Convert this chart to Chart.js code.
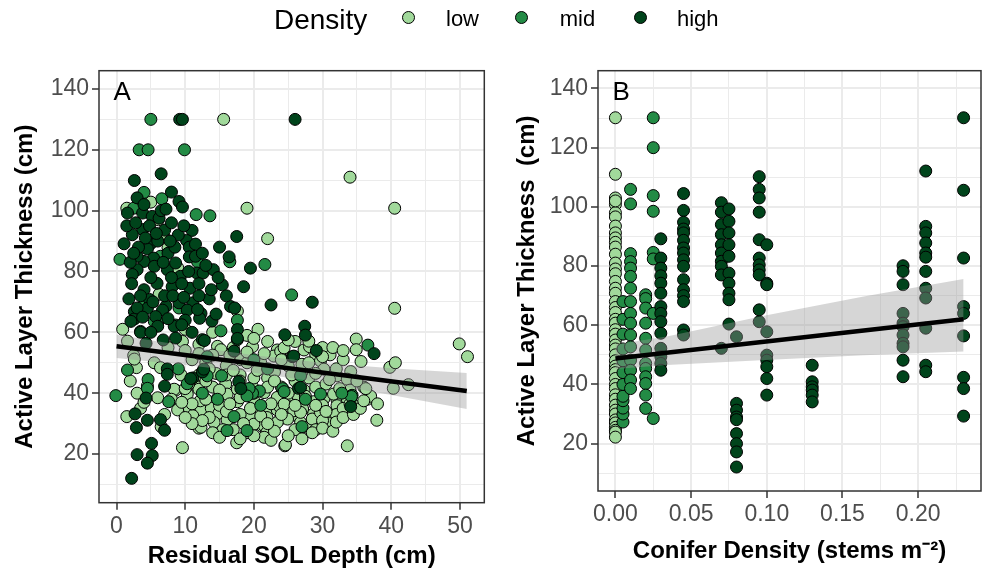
<!DOCTYPE html>
<html>
<head>
<meta charset="utf-8">
<script src="https://cdn.jsdelivr.net/npm/chart.js@4.4.1/dist/chart.umd.min.js"></script>
<style>
  body { margin: 0; background: #fff; font-family: "Liberation Sans", Arial, sans-serif; }
  #page { position: relative; width: 988px; height: 573px; overflow: hidden; }
  canvas { position: absolute; top: 0; }
  #chartA { left: 0; }
  #chartB { left: 494px; }
  .lg { position: absolute; line-height: 1; color: #000; white-space: nowrap; }
  .dot { position: absolute; top: 10.5px; width: 11px; height: 11px; border: 1px solid #000; border-radius: 50%; }
</style>
</head>
<body>
<div id="page">
  <canvas id="chartA" width="494" height="573"></canvas>
  <canvas id="chartB" width="494" height="573"></canvas>
  <div class="lg" style="left:274px;top:5.6px;font-size:28px">Density</div>
  <div class="dot" style="left:401.8px;background:#a1d99b"></div>
  <div class="lg" style="left:446px;top:7.9px;font-size:22px">low</div>
  <div class="dot" style="left:515.2px;background:#238b45"></div>
  <div class="lg" style="left:559.7px;top:7.9px;font-size:22px">mid</div>
  <div class="dot" style="left:634px;background:#00441b"></div>
  <div class="lg" style="left:677px;top:7.9px;font-size:22px">high</div>
</div>
<script>
const FONT = '"Liberation Sans", Arial, sans-serif';
const LOW = "#a1d99b", MID = "#238b45", HIGH = "#00441b";

// Panel A : residual SOL depth (cm) -> active layer thickness (cm)
const aLow = [
  [15.6,130],[34,111],[19,100.8],[40.5,100.8],[22,90.8],[5,102.8],[1.5,100.8],[6.1,97],[7,91],[7.5,87.8],
  [6.2,72.5],[8.9,81.3],[17.6,67],[40.5,67.9],[49.9,56.2],[51.1,52],[34.9,57.8],[34.9,54.3],[35.6,50.4],[39.8,48.5],
  [40.6,50],[40.3,41.6],[42.5,42.8],[37.9,31.1],[33.6,22.7],[24.5,22.7],[17.5,23.7],[9.6,22.1],[31.1,52.6],[20.6,61],
  [19.8,55.3],[36.5,38],[35,35.6],[31.1,32.8],[1.5,32.3],[0.9,61],[1.6,57.1],[2.5,52.4],[2.9,48.4],[9.4,46],
  [8.6,41],[11.8,42.1],[8.9,34.5],[10.6,35],[12.3,34.5],[13.8,35],[14.9,33.4],[12,28.5],[16.1,31.2],[17.6,37.2],
  [19.5,32.8],[20.1,35.5],[21.9,34.5],[21.9,32],[21.2,29.2],[23.4,34.5],[23.9,31.6],[24.6,23],[23.4,38.3],[19.8,42],
  [6,38.5],[6.5,29],[3.5,35],[2.6,51.2],[14.5,46.5],[15.9,43],[14.7,38.3],[34.1,47.1],[28.7,37.2],[27.3,41],
  [26.5,38.4],[24.8,37.8],[23.8,35.5],[25.3,35.5],[25.8,32.8],[27.1,34.8],[28.7,33.2],[28.7,31.4],[26.8,30.4],[27.8,28.8],
  [30.2,38.2],[32.1,37.8],[33.5,39],[29,52.6],[27.3,54.2],[28.1,55.3],[23.4,54.2],[9.6,57],[14.7,55.4],[15.2,54.3],
  [18.1,51],[19,50],[21,50],[22.9,52.2],[23.9,53.8],[24.4,54.9],[28,57.1],[29.7,50.6],[32.1,45.7],[33.6,44.6],
  [30.2,47.9],[5.5,50],[6.4,48.4],[4.5,42.4],[8.4,41.3],[12,41.3],[10.3,39.7],[12.2,37.5],[16.1,39.7],[17.6,41.3],
  [20,37.5],[21.5,40.2],[23.4,38.6],[24.4,36.4],[25.8,34.2],[24.9,31.5],[23.4,30.4],[21.5,29.3],[20,29.8],[21.9,27.1],
  [21.5,25.5],[14.2,30.4],[12.3,28.8],[11.1,32.6],[26.8,33.7],[28.5,31.5],[29.7,33.7],[31.1,33.1],[32.1,35.9],[33.6,38.1],
  [31.6,39.7],[13,38],[15,36],[16,34],[18,33],[18.5,30],[19,27],[17,28],[15.5,28],[13.5,32],
  [11,36.5],[22.5,36.5],[25,40],[26,44],[28,45],[29,42],[30,36],[31,30],[32,33],[33,35],
  [34,41],[30.5,43],[27,47],[25,49],[22,45],[20,45],[18,46],[16,49],[13,50],[11,51],
  [10,54],[12,56],[17,55],[23,47],[26,28],[29,28],[30,31],[20,40],[22,42],[24,42],
  [14,42],[12,46],[8,38],[7,33],[4,37],[3,40],[2,44],[10.5,43],[37,39],[38,36.5],
  [36,42],[35,44],[18,44],[7.5,55],[10,61],[14,60],[19,59],[26,57],[30,55],[32,48],
  [33,51],[36.3,41.5],[14,27],[15,25.5],[18,25],[20,26],[22.5,24.5],[23,27.5],[25,26],[27,25],
  [28.5,27],[30,28.5],[31.5,27.5],[32,30.5],[33,32],[34.5,33],[35.5,35],[36,37.5],[34,36.5],[12.5,31],
  [11,30],[10,32],[9.5,37],[10,41.5],[13,44],[15,41],[16.5,36.5],[18,38.5],[19.5,35],[21,32.5],
  [22,30],[24,33],[26,36],[27.5,39],[29,36],[30.5,34],[32.5,41.5],[31,44.5],[29,46.5],[27,49.5],
  [24,51],[21.5,53],[19,53.5],[16.5,52.5],[14,52.5],[12,53],[13.5,48],[16,46],[20.5,47.5],[23,44],
  [25.5,46],[28,50],[30,52],[31.5,55],[33,54],[25,57.5],[22,57],[20,58],[17,47.5]
];
const aMid = [
  [5,130],[3.3,120],[4.6,120],[9.9,120],[4,106],[6.6,103.9],[2.5,100.8],[11.6,98.7],[13.6,98.3],[0.5,84],
  [16.5,83.2],[21.6,82.3],[25.5,72.3],[11.8,83.2],[-0.1,39.2],[36.6,55.8],[1.6,47.6],[27,29],[4.6,44.5],[15.2,60.5],
  [17.6,64],[20.8,40.7],[34.3,39.3],[4.5,41.6],[7.6,37.2],[10.3,43.1],[19.8,40],[19.3,41.5],[17.1,32.3],[15.3,45.7],
  [13.2,52],[6,63.4],[8.6,62.4],[17.6,57.6],[24.2,41.5],[24.4,40.5],[34.2,38.9],[32.8,40],[3.5,60.3],[5.5,63.6],
  [20,51],[26.8,45.7],[13.2,45.7],[14.7,38],[19,39.1],[19,27.7],[16.1,27.7],[29.7,39.7],[9.1,68],[4,69],
  [6.4,85],[22,48],[12.5,40],[9,48],[27.5,38],[21,36]
];
const aHigh = [
  [9.2,130],[9.6,130],[26,130],[2.6,109.9],[6.5,112.1],[8,106.1],[3,104.2],[9.1,103],[9.6,101.2],[1.6,99.2],
  [3.8,99.2],[5.2,98.1],[6.2,97.5],[11,93.5],[7,93.6],[3.8,93.8],[2.3,92.1],[1.1,89.1],[5,89.2],[10.2,90.2],
  [10.6,88],[17.5,91.5],[4.5,87.4],[5.4,84.4],[10.6,84.8],[16.4,84.8],[19.5,81.1],[4,83.3],[3,80.6],[2.3,79],
  [5.5,81.7],[7.4,80.6],[8.6,82.8],[9.3,78.4],[11.7,79.5],[12.6,79.5],[14.1,80.6],[15.4,75.6],[4,74],[5.9,76.1],
  [8.1,75],[10.7,74.5],[4.8,70.8],[7.2,68.6],[9.1,69.7],[11.1,69.7],[2.6,66.8],[4.5,67.9],[6.7,67.3],[10.3,67.3],
  [12.3,66.2],[16.6,68.5],[22.5,69],[28.5,69.9],[37.5,53],[29.1,54],[24.5,59.2],[27.4,62],[27.5,59.1],[2.2,12],
  [3,19.8],[5.1,23.5],[5.2,19.5],[4.5,17],[2.7,33.2],[2.9,28.7],[4.5,31.1],[6.4,31.3],[7,27.8],[4.3,38.4],
  [7,42.3],[7.4,48],[12.1,64.6],[13.9,63.7],[12.5,57.6],[11.1,45],[17.2,68],[17.6,60.9],[4.3,56.4],[2.6,64.4],
  [10.8,44.8],[12.5,47],[12.8,57.3],[17.6,58],[17.8,43.8],[18.1,41.5],[25.6,52],[26.5,41.6],[34.1,35.6],[2.1,63.6],
  [5.7,65.2],[8.4,62],[8.6,58.1],[17.1,53.8],[25.8,52.2],[12.7,47.9],[7.4,46.2],[26.8,41.9],[3,85],[6,90],
  [7.5,86],[9,92],[8,96],[4.8,95],[6.5,100],[2,83],[5,78],[7,72],[9.5,76],[12,76],
  [13.5,71],[3.5,72],[6,62],[10,64],[14.5,66],[8.5,88],[11.5,85],[3.5,60],[2.2,76],[1.5,95],
  [2.8,96],[4.2,91],[5.8,92.5],[7.8,90],[9.8,95],[11.5,89],[12.5,86],[13,82],[14.8,78],[3.2,88],
  [2.5,86],[6.8,83],[8,78],[10.5,80],[12,72],[13.8,74],[1.8,71],[3,68],[5.3,70],[8.2,72],
  [9.8,71.5],[11.8,67.5],[3.8,65],[7.5,64.5],[9.5,62.5],[11,60],[5,60],[6.8,57.5],[16,72],[15,88],
  [18.5,75],[4,102],[7.2,100.5]
];
const aFitX = [0, 51];
const aFitY = [55.4, 40.7];
const aBandX = [0, 10, 20, 30, 40, 51];
const aBandHi = [59.2, 55.6, 52.5, 50.0, 48.2, 46.6];
const aBandLo = [51.6, 49.3, 46.7, 43.4, 39.4, 34.8];
const aXTicks = [0, 10, 20, 30, 40, 50];
const aXMinor = [5, 15, 25, 35, 45];

// Panel B : conifer density (stems m-2), one column of values per site density
const bLowX = [0];
const bLowY = [
  [130.1,111,103,100.8,98,96.6,93.5,91.2,89.5,88,86.4,84,81,79,77.4,74.8,72.5,70.8,68,66,64.3,62,60.7,58.5,57,
   55,53.3,52,50,48,46.2,45,44,42,40,38.6,36.5,35,33,31.3,30,28,27,25.5,24.5,23.9,22.2,102]
];
const bMidX = [0.005, 0.01, 0.02, 0.025];
const bMidY = [
  [27.3,30,32,34.5,36,40,44,48,52,57,62,68],
  [105.9,101,84.2,81.5,79.3,76.5,72.5,68,64,60.7,56.7,52.7,48.2,44.8,41.5,38.6],
  [70.3,69,65.8,60.7,55.6,51.6,47.1,45.4,42.6,40.3,36.4,31.9],
  [130.1,120,103.8,98.5,84.6,82.4,64,28.5]
];
const bHighX = [0.03, 0.045, 0.07, 0.075, 0.08, 0.095, 0.1, 0.13, 0.19, 0.205, 0.23];
const bHighY = [
  [89.2,82.7,79.3,76.7,74.2,70.8,66.3,64,61.2,57.3,52.2,49.4,47.1,44.8],
  [104.5,98.8,94.8,92.5,91.2,88.7,86.1,84.4,82.1,79.9,75.4,72,70,68,58.4,56.7],
  [101.4,98.2,94,90.6,87.2,84.4,81.6,79.9,77,52.2],
  [99.3,95.1,91.2,87.2,83.3,77.6,74.2,70.8,68.6,60.4],
  [56.1,33.6,31.3,29,28.1,23.4,20,17.2,12.1],
  [110.2,105.9,103,98.2,88.9,82.7,80.4,78.7,77,65.2,61.2],
  [87.2,74.2,73.7,57.8,49.9,48.2,46,42,36.4],
  [46.5,40.9,39.2,38.1,36.4,34.1],
  [80.1,78.2,73.7,64,60.7,59.5,56.7,53.9,52.7,48.2,42.6],
  [112.1,93.4,91.2,87.8,84.4,83,78.2,72.5,69.2,59,46.5,44.3],
  [130.1,105.6,82.7,66.3,64,56.4,42.4,38.6,29.3]
];
const bFitX = [0, 0.23];
const bFitY = [48.8, 62.0];
const bBandX = [0, 0.034, 0.099, 0.164, 0.23];
const bBandHi = [53.5, 56.2, 63.3, 69.7, 75.6];
const bBandLo = [45.2, 46.6, 48.3, 49.9, 51.1];
const bXTicks = [0, 0.05, 0.1, 0.15, 0.2];
const bXMinor = [0.025, 0.075, 0.125, 0.175, 0.225];

const yTicks = [20, 40, 60, 80, 100, 120, 140];
const yMinor = [10, 30, 50, 70, 90, 110, 130];

function pairs(arr) {
  return arr.map((p) => ({ x: p[0], y: p[1] }));
}
function columns(xs, ys) {
  const out = [];
  xs.forEach((x, i) => ys[i].forEach((y) => out.push({ x: x, y: y })));
  return out;
}
function zip(xs, ys) {
  return xs.map((x, i) => ({ x: x, y: ys[i] }));
}

function points(data, color, order) {
  return {
    data: data,
    backgroundColor: color,
    borderColor: "#000",
    borderWidth: 1,
    pointRadius: 6,
    showLine: false,
    order: order,
  };
}
function fitSets(fx, fy, bx, hi, lo) {
  return [
    { data: zip(fx, fy), showLine: true, borderColor: "#000", borderWidth: 4.5, pointRadius: 0, order: 0 },
    { data: zip(bx, hi), showLine: true, borderWidth: 0, borderColor: "rgba(0,0,0,0)", pointRadius: 0,
      fill: "+1", backgroundColor: "rgba(153,153,153,0.4)", order: 1 },
    { data: zip(bx, lo), showLine: true, borderWidth: 0, borderColor: "rgba(0,0,0,0)", pointRadius: 0, order: 1 },
  ];
}

// axis with major + minor grid lines, labels only on the major ones
function gridAxis(major, minor, fmt, extra) {
  const all = major.concat(minor).sort((a, b) => a - b);
  const isMajor = (c) => c.tick && major.includes(c.tick.value);
  return Object.assign({
    type: "linear",
    afterBuildTicks: (s) => { s.ticks = all.map((v) => ({ value: v })); },
    ticks: {
      autoSkip: false, maxRotation: 0, color: "#4d4d4d",
      font: { family: FONT, size: 23 },
      callback: (v) => (major.includes(v) ? fmt(v) : ""),
    },
    grid: {
      color: "#ebebeb",
      lineWidth: (c) => (isMajor(c) ? 2 : 1),
      tickColor: (c) => (isMajor(c) ? "#333333" : "rgba(0,0,0,0)"),
      tickLength: 7,
      tickWidth: 1.5,
    },
    border: { display: false },
  }, extra);
}

const panelDeco = {
  id: "panelDeco",
  afterDatasetsDraw(chart, args, opts) {
    const a = chart.chartArea;
    const ctx = chart.ctx;
    ctx.save();
    ctx.strokeStyle = "#333333";
    ctx.lineWidth = 1.5;
    ctx.strokeRect(a.left, a.top, a.right - a.left, a.bottom - a.top);
    ctx.fillStyle = "#000";
    ctx.font = "26px " + FONT;
    ctx.textBaseline = "alphabetic";
    ctx.fillText(opts.letter, a.left + 14.5, a.top + 29.3);
    ctx.restore();
  },
};

function makePanel(id, cfg) {
  return new Chart(document.getElementById(id), {
    type: "scatter",
    data: { datasets: cfg.datasets },
    options: {
      responsive: false,
      animation: false,
      events: [],
      layout: { padding: cfg.padding },
      plugins: { legend: { display: false }, tooltip: { enabled: false }, panelDeco: { letter: cfg.letter } },
      scales: {
        x: gridAxis(cfg.xMajor, cfg.xMinor, cfg.xFmt, {
          min: cfg.xMin, max: cfg.xMax,
          afterFit: (s) => { s.height = cfg.xHeight; },
          title: { display: true, text: cfg.xTitle, color: "#000",
            font: { family: FONT, size: 24, weight: "bold" }, padding: { top: 0, bottom: cfg.xTitlePad } },
        }),
        y: gridAxis(yTicks, yMinor, (v) => String(v), {
          min: 4, max: 146,
          afterFit: (s) => { s.width = cfg.yWidth; },
          title: { display: true, text: cfg.yTitle, color: "#000",
            font: { family: FONT, size: 24, weight: "bold" }, padding: { top: cfg.yTitlePad, bottom: 0 } },
        }),
      },
    },
    plugins: [panelDeco],
  });
}

Chart.defaults.scales.linear.ticks.padding = 3;

makePanel("chartA", {
  letter: "A",
  datasets: fitSets(aFitX, aFitY, aBandX, aBandHi, aBandLo).concat([
    points(pairs(aHigh), HIGH, 2),
    points(pairs(aMid), MID, 3),
    points(pairs(aLow), LOW, 4),
  ]),
  padding: { left: 0, top: 70.7, right: 9.7, bottom: 0 },
  xMajor: aXTicks, xMinor: aXMinor, xFmt: (v) => String(v),
  xMin: -2.55, xMax: 53.55, xHeight: 70.3, xTitlePad: 2.1,
  xTitle: "Residual SOL Depth (cm)",
  yWidth: 99, yTitlePad: 10.6,
  yTitle: "Active Layer Thickness (cm)",
});

makePanel("chartB", {
  letter: "B",
  datasets: fitSets(bFitX, bFitY, bBandX, bBandHi, bBandLo).concat([
    points(columns(bHighX, bHighY), HIGH, 2),
    points(columns(bMidX, bMidY), MID, 3),
    points(columns(bLowX, bLowY), LOW, 4),
  ]),
  padding: { left: 0, top: 70.7, right: 4.7, bottom: 0 },
  xMajor: bXTicks, xMinor: bXMinor, xFmt: (v) => v.toFixed(2),
  xMin: -0.0115, xMax: 0.2415, xHeight: 82, xTitlePad: 7.1,
  xTitle: "Conifer Density (stems m\u207B\u00B2)",
  yWidth: 104, yTitlePad: 18.6,
  yTitle: "Active Layer Thickness  (cm)",
});
</script>
</body>
</html>
